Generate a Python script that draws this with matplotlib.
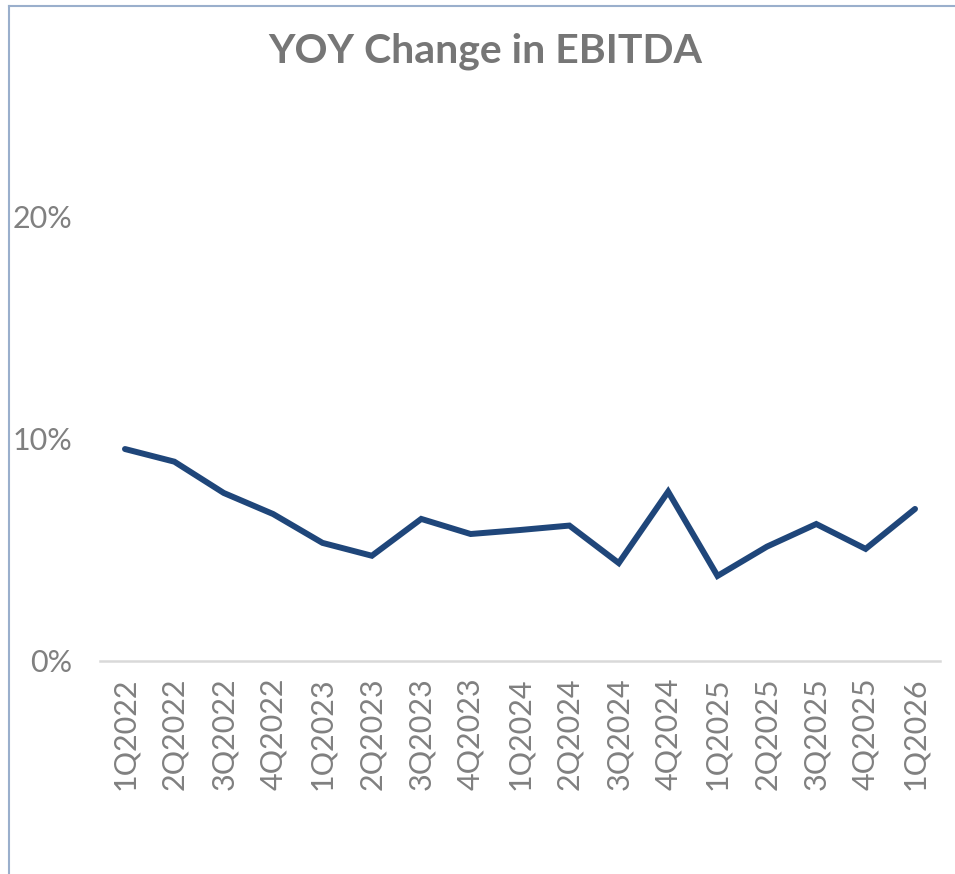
import matplotlib
matplotlib.use("Agg")
import matplotlib.pyplot as plt
from matplotlib.lines import Line2D
from matplotlib.ticker import FuncFormatter

# Data
quarters = ["1Q2022", "2Q2022", "3Q2022", "4Q2022",
            "1Q2023", "2Q2023", "3Q2023", "4Q2023",
            "1Q2024", "2Q2024", "3Q2024", "4Q2024",
            "1Q2025", "2Q2025", "3Q2025", "4Q2025",
            "1Q2026"]
yoy_change = [0.0954, 0.0897, 0.0756, 0.0661,
              0.0531, 0.0473, 0.0639, 0.0571,
              0.0589, 0.0609, 0.0440, 0.0762,
              0.0382, 0.0514, 0.0616, 0.0504,
              0.0684]
y_ticks = [0.0, 0.10, 0.20]

plt.rcParams['font.family'] = ['Lato', 'DejaVu Sans']

W, H = 955, 874
fig = plt.figure(figsize=(W / 100, H / 100), dpi=100)
fig.patch.set_facecolor("white")

# Chart frame (only top and left edges visible in the reference)
frame_color = "#9aafcc"
fig.add_artist(Line2D([9 / W, 1.0], [1 - 6 / H, 1 - 6 / H],
                      transform=fig.transFigure, color=frame_color, lw=1.5))
fig.add_artist(Line2D([9 / W, 9 / W], [0.0, 1 - 6 / H],
                      transform=fig.transFigure, color=frame_color, lw=1.5))

ax = fig.add_axes([100.3 / W, (H - 660.7) / H, 839.4 / W, 554.7 / H])
x = list(range(len(quarters)))
ax.plot(x, yoy_change, color="#1f467a", lw=4.3, solid_joinstyle="miter",
        solid_capstyle="round")

ax.set_xlim(-0.5, len(quarters) - 0.5)
ax.set_ylim(0, 0.25)
ax.set_yticks(y_ticks)
ax.yaxis.set_major_formatter(FuncFormatter(lambda v, p: f"{v * 100:.0f}%"))
ax.set_xticks(x)
ax.set_xticklabels(quarters, rotation=90)

for s in ["top", "right", "left"]:
    ax.spines[s].set_visible(False)
ax.spines["bottom"].set_color("#d9d9d9")
ax.spines["bottom"].set_linewidth(1.8)

ax.tick_params(axis="both", length=0, labelsize=22, labelcolor="#808080")
ax.tick_params(axis="x", pad=12)
ax.tick_params(axis="y", pad=20)

fig.text(485 / W, 1 - 62 / H, "YOY Change in EBITDA", ha="center",
         va="baseline", fontsize=29.5, fontweight="bold", color="#767676")

fig.savefig("out.png", dpi=100, facecolor="white")
